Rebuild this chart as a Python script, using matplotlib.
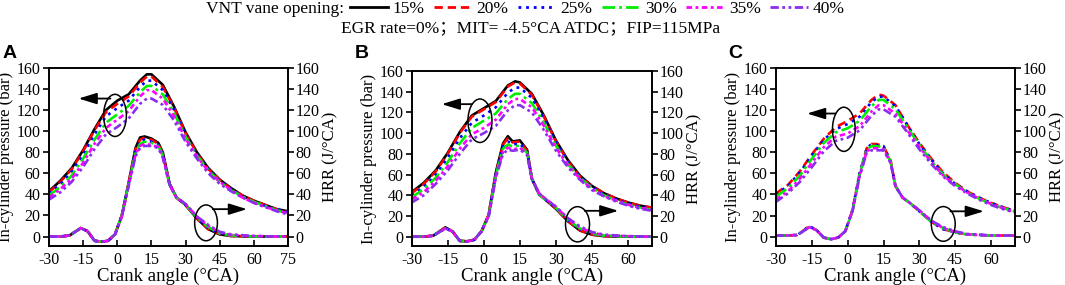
import matplotlib
matplotlib.use('Agg')
import matplotlib.pyplot as plt
from matplotlib.lines import Line2D
from matplotlib.patches import Ellipse

plt.rcParams['font.family'] = ['Liberation Serif', 'Noto Sans CJK SC']
plt.rcParams['lines.scale_dashes'] = False
plt.rcParams['axes.unicode_minus'] = False

# data
LABELS = ['15%', '20%', '25%', '30%', '35%', '40%']

P_ANGLE_A = [-30, -25, -20, -15, -10, -5, 0, 5, 10, 13, 15, 20, 25, 30, 35,
             40, 45, 50, 55, 60, 65, 70, 75]
P_ANGLE_BC = P_ANGLE_A[:-1]
H_ANGLE_A = [-30, -25, -21, -16, -13, -10, -7, -4, -1, 2, 5, 8, 10, 12, 15,
             18, 20, 23, 26, 30, 35, 40, 45, 50, 60, 70, 75]
H_ANGLE_BC = H_ANGLE_A[:-1]

# panel A, in-cylinder pressure (bar)
PRES_A = [
    [43, 53, 65, 82, 102, 120, 129, 135, 148, 154, 154, 144, 123, 99, 80, 65, 54, 46, 39, 34, 30, 26, 24],
    [42, 52, 64, 81, 101, 118, 126, 133, 146, 152, 152, 142, 122, 98, 79, 64, 54, 45, 39, 34, 30, 26, 23],
    [41, 50, 62, 78, 97, 114, 122, 129, 142, 148, 148, 139, 120, 97, 78, 64, 53, 45, 38, 33, 29, 26, 23],
    [39, 47, 58, 74, 92, 108, 116, 124, 137, 143, 143, 135, 117, 95, 77, 63, 52, 44, 38, 33, 29, 25, 22],
    [37, 45, 55, 70, 88, 103, 111, 119, 133, 139, 139, 131, 114, 93, 76, 62, 52, 44, 37, 32, 28, 25, 22],
    [35, 42, 52, 66, 83, 97, 104, 112, 126, 131, 131, 125, 110, 90, 74, 60, 50, 43, 37, 32, 28, 24, 21],
]
# panel A, heat release rate (J/°CA)
HRR_A = [
    [0, 0, 1, 8, 5, -4, -5, -4, 2, 20, 51, 84, 94, 95, 93, 89, 80, 50, 37, 30, 17, 7, 2, 0.5, 0, 0, 0],
    [0, 0, 1, 8, 5, -4, -5, -4, 2, 20, 51, 83, 92, 94, 92, 88, 79, 50, 37, 30, 17, 7, 2.5, 0.5, 0, 0, 0],
    [0, 0, 1, 8, 5, -4, -5, -4, 2, 20, 50, 81, 90, 92, 90, 87, 78, 49, 37, 30, 18, 8, 3, 1, 0, 0, 0],
    [0, 0, 1, 8, 5, -4, -5, -4, 2, 20, 50, 79, 88, 90, 89, 86, 77, 49, 37, 30, 18, 9, 3, 1, 0, 0, 0],
    [0, 0, 1, 8, 5, -4, -5, -4, 2, 19, 49, 78, 86, 88, 87, 85, 76, 49, 37, 31, 19, 10, 4, 1.5, 0.5, 0, 0],
    [0, 0, 1, 8, 5, -4, -5, -4, 2, 19, 48, 76, 84, 86, 86, 84, 75, 49, 37, 31, 19, 11, 4.5, 2, 0.5, 0, 0],
]

PRES_B = [
    [43, 52, 64, 81, 101, 117, 124, 131, 146, 150, 149, 138, 117, 93, 74, 59, 49, 42, 37, 33, 30, 28],
    [42, 51, 63, 80, 100, 116, 123, 130, 145, 149, 148, 137, 116, 92, 73, 58, 49, 42, 37, 33, 30, 28],
    [40, 48, 60, 76, 95, 110, 117, 125, 139, 144, 144, 134, 114, 91, 72, 58, 48, 41, 36, 32, 29, 27],
    [38, 46, 57, 72, 90, 105, 112, 119, 133, 138, 138, 129, 110, 88, 70, 57, 47, 40, 35, 31, 28, 26],
    [36, 43, 54, 68, 85, 99, 105, 113, 128, 133, 133, 125, 107, 86, 69, 56, 46, 39, 35, 31, 28, 26],
    [33, 40, 51, 64, 80, 94, 100, 107, 122, 127, 127, 120, 103, 83, 67, 55, 45, 39, 34, 30, 27, 25],
]
HRR_B = [
    [0, 0, 1, 9, 5, -4, -4.5, -3, 5, 21, 62, 90, 97, 92, 93, 84, 56, 41, 35, 27, 15, 6, 2, 0.5, 0, 0],
    [0, 0, 1, 9, 5, -4, -4.5, -3, 5, 21, 61, 89, 95, 91, 92, 83, 56, 41, 35, 27, 15, 6, 2, 0.5, 0, 0],
    [0, 0, 1, 8, 5, -4, -4.5, -3, 5, 20, 60, 87, 92, 89, 90, 82, 56, 41, 35, 28, 16, 7, 2.5, 1, 0, 0],
    [0, 0, 1, 8, 5, -4, -4.5, -3, 5, 20, 59, 85, 89, 87, 88, 81, 56, 41, 35, 28, 16, 8, 3, 1, 0, 0],
    [0, 0, 1, 8, 5, -4, -4.5, -3, 5, 20, 58, 82, 86, 84, 86, 80, 56, 42, 36, 29, 17, 9, 4, 1.5, 0.5, 0],
    [0, 0, 1, 8, 5, -4, -4.5, -3, 5, 19, 57, 80, 84, 83, 84, 79, 56, 42, 36, 29, 18, 10, 4.5, 2, 0.5, 0],
]

# panel C has no 15% curve
PRES_C = [
    None,
    [41, 49, 62, 78, 93, 104, 110, 117, 130, 135, 134, 125, 106, 89, 74, 61, 51, 43, 37, 32, 28, 24],
    [40, 48, 61, 77, 92, 102, 107, 114, 128, 133, 133, 124, 106, 88, 73, 60, 50, 43, 37, 32, 28, 24],
    [38, 46, 58, 74, 89, 99, 103, 110, 124, 130, 130, 121, 104, 87, 72, 59, 50, 42, 36, 31, 27, 24],
    [35, 43, 55, 70, 85, 95, 98, 105, 119, 125, 125, 117, 101, 85, 71, 58, 49, 42, 36, 31, 27, 23],
    [33, 41, 52, 66, 81, 91, 94, 101, 115, 121, 121, 114, 99, 83, 69, 57, 48, 41, 35, 30, 26, 23],
]
HRR_C = [
    None,
    [1, 1, 1.5, 10, 6, -1, -2.5, -1, 5, 25, 60, 84, 88, 88, 86, 72, 48, 37, 32, 24, 14, 7, 4, 2, 1, 1],
    [1, 1, 1.5, 10, 6, -1, -2.5, -1, 5, 25, 60, 84, 88, 87, 86, 71, 48, 37, 32, 24, 14, 7, 4, 2, 1, 1],
    [1, 1, 1.5, 9, 6, -1, -2.5, -1, 5, 24, 59, 83, 86, 86, 85, 71, 48, 37, 32, 24, 14, 8, 4, 2, 1, 1],
    [1, 1, 1.5, 9, 6, -1, -2.5, -1, 5, 24, 58, 81, 84, 84, 83, 70, 48, 37, 32, 25, 15, 8, 4.5, 2, 1, 1],
    [1, 1, 1.5, 9, 6, -1, -2.5, -1, 5, 24, 57, 80, 82, 82, 82, 70, 48, 37, 32, 25, 15, 9, 5, 2.5, 1, 1],
]

COLORS = ['#000000', '#ff0000', '#0000ff', '#00ee00', '#ff00ff', '#8b2cf0']
DASHES = [None, (6, 3.5), (2, 3.5), (9, 3, 2, 3), (4, 2.5, 2, 2.5),
          (6, 2.5, 2, 2.5, 2, 2.5)]

PANELS = [
    {'letter': 'A', 'rect': [0.0460, 0.1368, 0.2244, 0.6246], 'xmax': 75,
     'p_angle': P_ANGLE_A, 'h_angle': H_ANGLE_A, 'pres': PRES_A, 'hrr': HRR_A,
     'ell_p': (-1, 115, 10, 40), 'arr_p': ((-3, 131), (-17, 131)),
     'ell_h': (39, 13, 10, 34), 'arr_h': ((42, 26), (57, 26)), 'letter_x': 10},
    {'letter': 'B', 'rect': [0.3866, 0.1368, 0.2256, 0.6140], 'xmax': 70,
     'p_angle': P_ANGLE_BC, 'h_angle': H_ANGLE_BC, 'pres': PRES_B, 'hrr': HRR_B,
     'ell_p': (-1.6, 112, 10, 42), 'arr_p': ((-5, 128), (-17.5, 128)),
     'ell_h': (39, 12, 10, 34), 'arr_h': ((42, 25), (56, 25)), 'letter_x': 362},
    {'letter': 'C', 'rect': [0.7286, 0.1368, 0.2244, 0.6235], 'xmax': 70,
     'p_angle': P_ANGLE_BC, 'h_angle': H_ANGLE_BC, 'pres': PRES_C, 'hrr': HRR_C,
     'ell_p': (-1.6, 102, 9.5, 42), 'arr_p': ((-5, 117), (-17, 117)),
     'ell_h': (40, 12, 10, 33), 'arr_h': ((43, 24), (57, 24)), 'letter_x': 735},
]

W, H = 1065, 285
fig = plt.figure(figsize=(W / 100, H / 100), dpi=100)


def style_line(line, i):
    if DASHES[i] is not None:
        line.set_dashes(DASHES[i])


for panel in PANELS:
    ax = fig.add_axes(panel['rect'])
    for i in range(6):
        if panel['pres'][i] is None:
            continue
        ln, = ax.plot(panel['p_angle'], panel['pres'][i], color=COLORS[i], lw=1.9)
        style_line(ln, i)
        ln, = ax.plot(panel['h_angle'], panel['hrr'][i], color=COLORS[i], lw=1.9)
        style_line(ln, i)
    ax.set_xlim(-30, panel['xmax'])
    ax.set_ylim(-9, 160)
    ax.set_xticks(range(-30, panel['xmax'] + 1, 15))
    ax.set_yticks(range(0, 161, 20))
    ax.tick_params(axis='x', direction='in', length=4, width=1.2, labelsize=11.5, pad=4)
    ax.tick_params(axis='y', direction='out', length=4, width=1.2, labelsize=11.5, pad=2)
    for sp in ax.spines.values():
        sp.set_linewidth(1.2)
    ax.set_xlabel('Crank angle (°CA)', fontsize=13.5, labelpad=0)
    ax.set_ylabel('In-cylinder pressure (bar)', fontsize=12, labelpad=2)

    ax2 = ax.twinx()
    ax2.set_ylim(-9, 160)
    ax2.set_yticks(range(0, 161, 20))
    ax2.tick_params(axis='y', direction='out', length=4, width=1.2, labelsize=11.5, pad=1.5)
    ax2.set_ylabel('HRR (J/°CA)', fontsize=12, labelpad=2)
    for sp in ax2.spines.values():
        sp.set_linewidth(1.2)

    for key, arr in (('ell_p', 'arr_p'), ('ell_h', 'arr_h')):
        cx, cy, ew, eh = panel[key]
        ax.add_patch(Ellipse((cx, cy), ew, eh, fill=False, ec='k', lw=1.1, zorder=5))
        start, tip = panel[arr]
        ax.annotate('', xy=tip, xytext=start,
                    arrowprops=dict(arrowstyle='-|>,head_length=0.55,head_width=0.17',
                                    color='k', lw=1.3, mutation_scale=20,
                                    shrinkA=0, shrinkB=0))

    fig.text(panel['letter_x'] / W, 1 - 53 / H, panel['letter'], fontsize=14,
             fontweight='bold', family='Liberation Sans', ha='center', va='center')

# legend row
handles = []
for i in range(6):
    h = Line2D([], [], color=COLORS[i], lw=2)
    style_line(h, i)
    handles.append(h)
fig.text(344 / W, 1 - 9 / H, 'VNT vane opening:', fontsize=12.5, ha='right', va='center')
fig.legend(handles, LABELS, loc='center left', bbox_to_anchor=(350 / W, 1 - 9 / H),
           ncol=6, frameon=False, fontsize=12.5, handlelength=2.2, handletextpad=0.25,
           columnspacing=0.55, borderpad=0, borderaxespad=0)
fig.text(531 / W, 1 - 28 / H, 'EGR rate=0%；MIT= -4.5°CA ATDC；FIP=115MPa',
         fontsize=12.5, ha='center', va='center')

fig.savefig('out.png', dpi=100)
